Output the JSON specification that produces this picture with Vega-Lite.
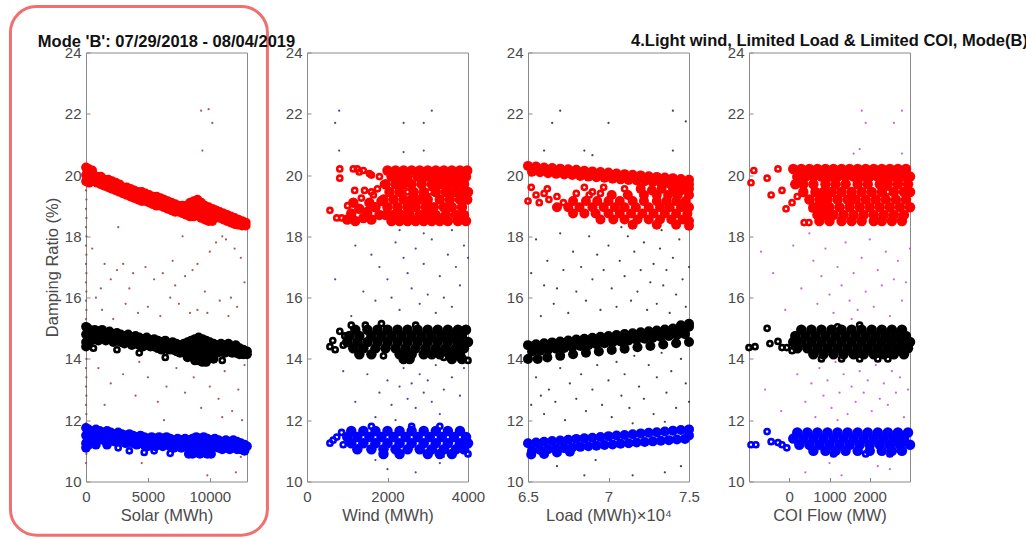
{
"$schema":"https://vega.github.io/schema/vega-lite/v6.json",
"padding":{"left":8,"top":4.5,"right":0,"bottom":0},
"background":"white",
"bounds":"flush",
"spacing":60,
"config":{
 "view":{"stroke":"#8a8a8a","strokeWidth":1},
 "axis":{"grid":false,"domain":false,"ticks":true,"tickSize":-4,"tickColor":"#8a8a8a","labelFlush":false,"labelColor":"#4a4a4a","titleColor":"#4a4a4a","labelFont":"Liberation Sans","titleFont":"Liberation Sans","labelFontSize":15,"titleFontSize":16.5,"titleFontWeight":"normal"},
 "axisX":{"labelPadding":12,"titlePadding":3},
 "axisY":{"labelPadding":9,"titlePadding":4},
 "title":{"font":"Liberation Sans","fontSize":16.5,"fontWeight":"bold","color":"#111111","offset":5,"frame":"group"}
},
"datasets":{
"d1":[{"x":0,"y":10.6},{"x":30,"y":10.9},{"x":0,"y":11.9},{"x":30,"y":12.2},{"x":0,"y":12.5},{"x":30,"y":12.8},{"x":0,"y":13.1},{"x":30,"y":13.4},{"x":0,"y":13.7},{"x":30,"y":14.0},{"x":0,"y":15.3},{"x":30,"y":15.6},{"x":0,"y":15.9},{"x":30,"y":16.2},{"x":0,"y":16.5},{"x":30,"y":16.8},{"x":0,"y":17.1},{"x":30,"y":17.4},{"x":0,"y":17.7},{"x":30,"y":18.0},{"x":0,"y":18.3},{"x":30,"y":18.6},{"x":0,"y":18.9},{"x":30,"y":19.2},{"x":0,"y":19.5},
{"x":1500,"y":17.1},{"x":2500,"y":16.9},{"x":3000,"y":17.1},{"x":3800,"y":16.8},{"x":1200,"y":16.3},{"x":2000,"y":16.6},{"x":3500,"y":16.3},{"x":4800,"y":17.0},{"x":5500,"y":16.6},{"x":6200,"y":16.8},{"x":7000,"y":17.2},{"x":7200,"y":16.4},{"x":8000,"y":16.7},{"x":8600,"y":16.9},{"x":9000,"y":17.1},{"x":9600,"y":16.2},{"x":10000,"y":17.5},{"x":10500,"y":17.8},{"x":11000,"y":18.0},{"x":11300,"y":17.9},{"x":12000,"y":17.6},{"x":12500,"y":17.3},{"x":12800,"y":16.5},{"x":11700,"y":16.0},{"x":12200,"y":15.7},{"x":11500,"y":15.4},{"x":10800,"y":15.9},{"x":9800,"y":15.5},{"x":9000,"y":15.6},{"x":8400,"y":15.5},{"x":7500,"y":15.8},{"x":6800,"y":16.0},{"x":6000,"y":15.4},{"x":5000,"y":15.7},{"x":4200,"y":15.5},{"x":3200,"y":15.8},{"x":2200,"y":15.3},{"x":1300,"y":15.6},{"x":800,"y":16.0},{"x":500,"y":17.6},{"x":2600,"y":18.3},{"x":7800,"y":18.0},{"x":1000,"y":13.7},{"x":2000,"y":13.2},{"x":3000,"y":13.5},{"x":4000,"y":12.8},{"x":5000,"y":13.4},{"x":5800,"y":12.6},{"x":6500,"y":13.1},{"x":7300,"y":13.7},{"x":8000,"y":12.9},{"x":8700,"y":13.4},{"x":9300,"y":12.4},{"x":10000,"y":13.1},{"x":10700,"y":12.7},{"x":11200,"y":13.6},{"x":11800,"y":12.3},{"x":12300,"y":13.0},{"x":12800,"y":13.8},{"x":12600,"y":12.0},{"x":11000,"y":12.1},{"x":6300,"y":12.0},{"x":4300,"y":13.9},{"x":1500,"y":12.5},{"x":9300,"y":22.1},{"x":9900,"y":22.15},{"x":10200,"y":21.7},{"x":9400,"y":20.8},{"x":12100,"y":10.3},{"x":4500,"y":10.6},{"x":12500,"y":10.8},{"x":9800,"y":10.2}],
"r1":[{"x":0,"y":20.25},{"x":0,"y":20.0},{"x":0,"y":19.8},{"x":100,"y":20.15},{"x":150,"y":19.9},{"x":200,"y":20.2},{"x":250,"y":19.75},{"x":300,"y":20.05},{"x":400,"y":19.95},{"x":500,"y":20.15},{"x":600,"y":20.0},{"x":600,"y":19.8},{"x":900,"y":19.95},{"x":900,"y":19.75},{"x":1200,"y":19.95},{"x":1200,"y":19.7},{"x":1500,"y":19.85},{"x":1500,"y":19.65},{"x":1800,"y":19.85},{"x":1800,"y":19.6},{"x":2100,"y":19.8},{"x":2100,"y":19.55},{"x":2400,"y":19.75},{"x":2400,"y":19.5},{"x":2700,"y":19.7},{"x":2700,"y":19.45},{"x":3000,"y":19.6},{"x":3000,"y":19.4},{"x":3300,"y":19.6},{"x":3300,"y":19.35},{"x":3600,"y":19.55},{"x":3600,"y":19.3},{"x":3900,"y":19.5},{"x":3900,"y":19.25},{"x":4200,"y":19.45},{"x":4200,"y":19.2},{"x":4500,"y":19.45},{"x":4500,"y":19.15},{"x":4800,"y":19.4},{"x":4800,"y":19.15},{"x":5100,"y":19.35},{"x":5100,"y":19.1},{"x":5400,"y":19.3},{"x":5400,"y":19.05},{"x":5700,"y":19.3},{"x":5700,"y":19.0},{"x":6000,"y":19.25},{"x":6000,"y":19.0},{"x":6300,"y":19.2},{"x":6300,"y":18.95},{"x":6600,"y":19.15},{"x":6600,"y":18.9},{"x":6900,"y":19.1},{"x":6900,"y":18.85},{"x":7200,"y":19.05},{"x":7200,"y":18.8},{"x":7500,"y":19.0},{"x":7500,"y":18.8},{"x":7800,"y":19.0},{"x":7800,"y":18.75},{"x":8100,"y":19.0},{"x":8100,"y":18.7},{"x":8400,"y":19.1},{"x":8400,"y":18.85},{"x":8400,"y":18.65},{"x":8700,"y":19.15},{"x":8700,"y":18.9},{"x":8700,"y":18.65},{"x":9000,"y":19.2},{"x":9000,"y":18.95},{"x":9000,"y":18.7},{"x":9300,"y":19.1},{"x":9300,"y":18.85},{"x":9300,"y":18.6},{"x":9600,"y":19.0},{"x":9600,"y":18.75},{"x":9600,"y":18.55},{"x":9900,"y":18.95},{"x":9900,"y":18.7},{"x":9900,"y":18.5},{"x":10200,"y":18.9},{"x":10200,"y":18.7},{"x":10200,"y":18.5},{"x":10500,"y":18.85},{"x":10500,"y":18.65},{"x":10800,"y":18.8},{"x":10800,"y":18.6},{"x":11100,"y":18.75},{"x":11100,"y":18.55},{"x":11400,"y":18.7},{"x":11400,"y":18.5},{"x":11700,"y":18.65},{"x":11700,"y":18.45},{"x":12000,"y":18.6},{"x":12000,"y":18.4},{"x":12300,"y":18.55},{"x":12300,"y":18.38},{"x":12600,"y":18.5},{"x":12600,"y":18.35},{"x":12900,"y":18.45},{"x":12900,"y":18.35}],
"k1":[{"x":0,"y":15.05},{"x":0,"y":14.8},{"x":0,"y":14.55},{"x":0,"y":14.4},{"x":150,"y":15.0},{"x":150,"y":14.7},{"x":150,"y":14.45},{"x":400,"y":14.9},{"x":400,"y":14.6},{"x":700,"y":14.95},{"x":700,"y":14.65},{"x":1000,"y":14.9},{"x":1000,"y":14.6},{"x":1300,"y":14.95},{"x":1300,"y":14.7},{"x":1600,"y":14.85},{"x":1600,"y":14.6},{"x":1900,"y":14.9},{"x":1900,"y":14.65},{"x":2200,"y":14.8},{"x":2200,"y":14.55},{"x":2500,"y":14.85},{"x":2500,"y":14.6},{"x":2800,"y":14.8},{"x":2800,"y":14.55},{"x":3100,"y":14.75},{"x":3100,"y":14.5},{"x":3400,"y":14.8},{"x":3400,"y":14.55},{"x":3700,"y":14.7},{"x":3700,"y":14.45},{"x":4000,"y":14.75},{"x":4000,"y":14.5},{"x":4300,"y":14.7},{"x":4300,"y":14.45},{"x":4600,"y":14.65},{"x":4600,"y":14.4},{"x":4900,"y":14.7},{"x":4900,"y":14.45},{"x":5200,"y":14.6},{"x":5200,"y":14.4},{"x":5500,"y":14.65},{"x":5500,"y":14.4},{"x":5800,"y":14.6},{"x":5800,"y":14.35},{"x":6100,"y":14.55},{"x":6100,"y":14.3},{"x":6400,"y":14.6},{"x":6400,"y":14.35},{"x":6700,"y":14.5},{"x":6700,"y":14.3},{"x":7000,"y":14.55},{"x":7000,"y":14.3},{"x":7300,"y":14.5},{"x":7300,"y":14.25},{"x":7600,"y":14.45},{"x":7600,"y":14.2},{"x":7900,"y":14.5},{"x":7900,"y":14.25},{"x":8200,"y":14.55},{"x":8200,"y":14.3},{"x":8200,"y":14.05},{"x":8500,"y":14.6},{"x":8500,"y":14.35},{"x":8500,"y":14.1},{"x":8800,"y":14.65},{"x":8800,"y":14.4},{"x":8800,"y":14.15},{"x":8800,"y":13.95},{"x":9100,"y":14.7},{"x":9100,"y":14.45},{"x":9100,"y":14.2},{"x":9100,"y":13.95},{"x":9400,"y":14.65},{"x":9400,"y":14.4},{"x":9400,"y":14.15},{"x":9400,"y":13.9},{"x":9700,"y":14.6},{"x":9700,"y":14.35},{"x":9700,"y":14.1},{"x":9700,"y":13.9},{"x":10000,"y":14.55},{"x":10000,"y":14.3},{"x":10000,"y":14.05},{"x":10300,"y":14.5},{"x":10300,"y":14.25},{"x":10300,"y":14.0},{"x":10600,"y":14.45},{"x":10600,"y":14.2},{"x":10900,"y":14.5},{"x":10900,"y":14.25},{"x":11200,"y":14.45},{"x":11200,"y":14.2},{"x":11500,"y":14.5},{"x":11500,"y":14.25},{"x":11800,"y":14.4},{"x":11800,"y":14.2},{"x":12100,"y":14.45},{"x":12100,"y":14.2},{"x":12400,"y":14.35},{"x":12400,"y":14.15},{"x":12700,"y":14.3},{"x":12700,"y":14.15},{"x":13000,"y":14.25},{"x":13000,"y":14.15}],
"k1e":[{"x":2500,"y":14.3},{"x":4300,"y":14.2},{"x":6400,"y":14.05},{"x":600,"y":14.35},{"x":11000,"y":13.95}],
"b1":[{"x":0,"y":11.75},{"x":0,"y":11.5},{"x":0,"y":11.25},{"x":0,"y":11.1},{"x":200,"y":11.7},{"x":200,"y":11.45},{"x":200,"y":11.2},{"x":500,"y":11.6},{"x":500,"y":11.35},{"x":800,"y":11.7},{"x":800,"y":11.45},{"x":800,"y":11.2},{"x":1100,"y":11.65},{"x":1100,"y":11.4},{"x":1400,"y":11.6},{"x":1400,"y":11.35},{"x":1700,"y":11.65},{"x":1700,"y":11.4},{"x":1700,"y":11.2},{"x":2000,"y":11.6},{"x":2000,"y":11.35},{"x":2300,"y":11.55},{"x":2300,"y":11.3},{"x":2600,"y":11.6},{"x":2600,"y":11.35},{"x":2900,"y":11.55},{"x":2900,"y":11.3},{"x":3200,"y":11.5},{"x":3200,"y":11.25},{"x":3500,"y":11.55},{"x":3500,"y":11.3},{"x":3800,"y":11.5},{"x":3800,"y":11.25},{"x":4100,"y":11.45},{"x":4100,"y":11.2},{"x":4400,"y":11.5},{"x":4400,"y":11.25},{"x":4700,"y":11.45},{"x":4700,"y":11.2},{"x":5000,"y":11.4},{"x":5000,"y":11.15},{"x":5300,"y":11.45},{"x":5300,"y":11.2},{"x":5600,"y":11.4},{"x":5600,"y":11.15},{"x":5900,"y":11.45},{"x":5900,"y":11.2},{"x":6200,"y":11.4},{"x":6200,"y":11.15},{"x":6500,"y":11.45},{"x":6500,"y":11.2},{"x":6800,"y":11.4},{"x":6800,"y":11.15},{"x":7100,"y":11.35},{"x":7100,"y":11.1},{"x":7400,"y":11.4},{"x":7400,"y":11.15},{"x":7700,"y":11.35},{"x":7700,"y":11.1},{"x":8000,"y":11.4},{"x":8000,"y":11.15},{"x":8300,"y":11.35},{"x":8300,"y":11.1},{"x":8300,"y":10.9},{"x":8600,"y":11.4},{"x":8600,"y":11.15},{"x":8600,"y":10.9},{"x":8900,"y":11.45},{"x":8900,"y":11.2},{"x":8900,"y":10.95},{"x":9200,"y":11.4},{"x":9200,"y":11.15},{"x":9200,"y":10.9},{"x":9500,"y":11.45},{"x":9500,"y":11.2},{"x":9500,"y":10.95},{"x":9800,"y":11.4},{"x":9800,"y":11.15},{"x":9800,"y":10.9},{"x":10100,"y":11.35},{"x":10100,"y":11.1},{"x":10100,"y":10.9},{"x":10400,"y":11.4},{"x":10400,"y":11.15},{"x":10700,"y":11.35},{"x":10700,"y":11.1},{"x":11000,"y":11.3},{"x":11000,"y":11.05},{"x":11300,"y":11.35},{"x":11300,"y":11.1},{"x":11600,"y":11.3},{"x":11600,"y":11.05},{"x":11900,"y":11.35},{"x":11900,"y":11.1},{"x":12200,"y":11.3},{"x":12200,"y":11.05},{"x":12500,"y":11.25},{"x":12500,"y":11.05},{"x":12800,"y":11.2},{"x":12800,"y":11.0},{"x":13000,"y":11.15}],
"b1e":[{"x":3500,"y":11.0},{"x":4700,"y":10.95},{"x":6800,"y":10.92},{"x":2600,"y":11.1},{"x":5500,"y":11.0}],
"d2":[{"x":1200,"y":17.7},{"x":1600,"y":17.4},{"x":1800,"y":17.0},{"x":2000,"y":16.6},{"x":2200,"y":17.8},{"x":2400,"y":17.3},{"x":2500,"y":16.8},{"x":2700,"y":17.6},{"x":2900,"y":17.1},{"x":3100,"y":17.9},{"x":3300,"y":16.7},{"x":3500,"y":17.4},{"x":3700,"y":17.0},{"x":3900,"y":17.7},{"x":1400,"y":16.2},{"x":1700,"y":15.9},{"x":2100,"y":16.0},{"x":2300,"y":15.6},{"x":2600,"y":16.3},{"x":2800,"y":15.8},{"x":3000,"y":16.1},{"x":3200,"y":15.5},{"x":3400,"y":16.0},{"x":3600,"y":15.7},{"x":3800,"y":16.4},{"x":1100,"y":15.4},{"x":2900,"y":18.1},{"x":2300,"y":18.2},{"x":3600,"y":18.2},{"x":700,"y":16.6},{"x":4000,"y":17.3},{"x":1500,"y":13.5},{"x":1800,"y":12.9},{"x":2000,"y":13.3},{"x":2100,"y":12.5},{"x":2300,"y":13.1},{"x":2400,"y":13.7},{"x":2500,"y":12.7},{"x":2600,"y":13.2},{"x":2700,"y":12.4},{"x":2800,"y":13.5},{"x":2900,"y":12.9},{"x":3000,"y":13.3},{"x":3100,"y":12.6},{"x":3200,"y":13.8},{"x":3300,"y":12.2},{"x":3400,"y":13.0},{"x":3600,"y":13.4},{"x":3800,"y":12.8},{"x":1200,"y":12.6},{"x":900,"y":13.6},{"x":1700,"y":12.1},{"x":2200,"y":12.0},{"x":3900,"y":13.7},{"x":2000,"y":10.4},{"x":2700,"y":10.3},{"x":3300,"y":10.6},{"x":3400,"y":10.8},{"x":1700,"y":10.7},{"x":700,"y":21.7},{"x":800,"y":22.1},{"x":2400,"y":21.7},{"x":2900,"y":21.7},{"x":3100,"y":22.1},{"x":800,"y":20.8},{"x":2400,"y":20.75},{"x":2900,"y":20.8}],
"r2":[{"x":2000,"y":20.15},{"x":2200,"y":20.15},{"x":2400,"y":20.15},{"x":2600,"y":20.15},{"x":2800,"y":20.15},{"x":3000,"y":20.15},{"x":3200,"y":20.15},{"x":3400,"y":20.15},{"x":3600,"y":20.15},{"x":3800,"y":20.15},{"x":3980,"y":20.15},{"x":2100,"y":19.95},{"x":2300,"y":19.95},{"x":2500,"y":19.95},{"x":2750,"y":19.95},{"x":2950,"y":19.95},{"x":3150,"y":19.95},{"x":3350,"y":19.95},{"x":3550,"y":19.95},{"x":3750,"y":19.95},{"x":3950,"y":19.95},{"x":1950,"y":19.7},{"x":2200,"y":19.7},{"x":2400,"y":19.7},{"x":2600,"y":19.7},{"x":2850,"y":19.7},{"x":3100,"y":19.7},{"x":3300,"y":19.7},{"x":3500,"y":19.7},{"x":3700,"y":19.7},{"x":3900,"y":19.7},{"x":2050,"y":19.45},{"x":2300,"y":19.45},{"x":2650,"y":19.45},{"x":2900,"y":19.45},{"x":3200,"y":19.45},{"x":3450,"y":19.45},{"x":3650,"y":19.45},{"x":3850,"y":19.45},{"x":4000,"y":19.45},{"x":1900,"y":19.2},{"x":2150,"y":19.2},{"x":2400,"y":19.2},{"x":2600,"y":19.2},{"x":2800,"y":19.2},{"x":3000,"y":19.2},{"x":3300,"y":19.2},{"x":3550,"y":19.2},{"x":3800,"y":19.2},{"x":3980,"y":19.2},{"x":2000,"y":18.95},{"x":2250,"y":18.95},{"x":2500,"y":18.95},{"x":2700,"y":18.95},{"x":2950,"y":18.95},{"x":3150,"y":18.95},{"x":3400,"y":18.95},{"x":3600,"y":18.95},{"x":3850,"y":18.95},{"x":1950,"y":18.7},{"x":2150,"y":18.7},{"x":2350,"y":18.7},{"x":2550,"y":18.7},{"x":2800,"y":18.7},{"x":3000,"y":18.7},{"x":3200,"y":18.7},{"x":3450,"y":18.7},{"x":3700,"y":18.7},{"x":3900,"y":18.7},{"x":2100,"y":18.5},{"x":2300,"y":18.5},{"x":2500,"y":18.5},{"x":2700,"y":18.5},{"x":2900,"y":18.5},{"x":3100,"y":18.5},{"x":3300,"y":18.5},{"x":3500,"y":18.5},{"x":3750,"y":18.5},{"x":3950,"y":18.5},{"x":1000,"y":18.55},{"x":1100,"y":18.75},{"x":1200,"y":18.5},{"x":1300,"y":18.9},{"x":1400,"y":18.6},{"x":1500,"y":18.8},{"x":1600,"y":18.55},{"x":1700,"y":18.95},{"x":1800,"y":18.7},{"x":1850,"y":19.15},{"x":1150,"y":19.1},{"x":1550,"y":19.1}],
"r2e":[{"x":1350,"y":19.25},{"x":1650,"y":19.35},{"x":1750,"y":19.55},{"x":1900,"y":19.7},{"x":1800,"y":19.95},{"x":1600,"y":20.0},{"x":1300,"y":20.1},{"x":1150,"y":20.2},{"x":570,"y":18.85},{"x":740,"y":18.6},{"x":860,"y":18.6},{"x":815,"y":20.2},{"x":815,"y":19.9},{"x":1185,"y":19.5},{"x":1430,"y":19.5},{"x":1600,"y":19.45},{"x":1010,"y":19.0},{"x":1250,"y":20.2},{"x":1400,"y":20.15},{"x":1550,"y":20.05},{"x":2500,"y":19.45},{"x":3050,"y":19.45}],
"k2":[{"x":1200,"y":14.95},{"x":1500,"y":14.95},{"x":1750,"y":14.95},{"x":2000,"y":14.95},{"x":2250,"y":14.95},{"x":2500,"y":14.95},{"x":2750,"y":14.95},{"x":3000,"y":14.95},{"x":3250,"y":14.95},{"x":3500,"y":14.95},{"x":3750,"y":14.95},{"x":3950,"y":14.95},{"x":1050,"y":14.75},{"x":1300,"y":14.75},{"x":1600,"y":14.75},{"x":1850,"y":14.75},{"x":2100,"y":14.75},{"x":2350,"y":14.75},{"x":2600,"y":14.75},{"x":2850,"y":14.75},{"x":3100,"y":14.75},{"x":3350,"y":14.75},{"x":3600,"y":14.75},{"x":3850,"y":14.75},{"x":1000,"y":14.55},{"x":1250,"y":14.55},{"x":1500,"y":14.55},{"x":1750,"y":14.55},{"x":2000,"y":14.55},{"x":2250,"y":14.55},{"x":2500,"y":14.55},{"x":2750,"y":14.55},{"x":3000,"y":14.55},{"x":3250,"y":14.55},{"x":3500,"y":14.55},{"x":3750,"y":14.55},{"x":4000,"y":14.55},{"x":1150,"y":14.35},{"x":1400,"y":14.35},{"x":1700,"y":14.35},{"x":1950,"y":14.35},{"x":2200,"y":14.35},{"x":2450,"y":14.35},{"x":2700,"y":14.35},{"x":2950,"y":14.35},{"x":3200,"y":14.35},{"x":3450,"y":14.35},{"x":3700,"y":14.35},{"x":3900,"y":14.35},{"x":1300,"y":14.15},{"x":1600,"y":14.15},{"x":2300,"y":14.15},{"x":2450,"y":14.15},{"x":2600,"y":14.15},{"x":2900,"y":14.15},{"x":3100,"y":14.15},{"x":3300,"y":14.15},{"x":3550,"y":14.15},{"x":3800,"y":14.15},{"x":2400,"y":14.0},{"x":2550,"y":14.0},{"x":3600,"y":14.0},{"x":3850,"y":14.0}],
"k2e":[{"x":4000,"y":13.95},{"x":570,"y":14.4},{"x":640,"y":14.6},{"x":700,"y":14.3},{"x":815,"y":14.9},{"x":940,"y":14.75},{"x":900,"y":14.45},{"x":1100,"y":15.1},{"x":1450,"y":15.1},{"x":1850,"y":15.15},{"x":2700,"y":15.1},{"x":1900,"y":14.1},{"x":3400,"y":14.05}],
"b2":[{"x":1100,"y":11.65},{"x":1400,"y":11.65},{"x":1700,"y":11.65},{"x":2000,"y":11.65},{"x":2300,"y":11.65},{"x":2600,"y":11.65},{"x":2900,"y":11.65},{"x":3200,"y":11.65},{"x":3500,"y":11.65},{"x":3800,"y":11.65},{"x":1000,"y":11.45},{"x":1250,"y":11.45},{"x":1550,"y":11.45},{"x":1850,"y":11.45},{"x":2150,"y":11.45},{"x":2450,"y":11.45},{"x":2750,"y":11.45},{"x":3050,"y":11.45},{"x":3350,"y":11.45},{"x":3650,"y":11.45},{"x":3950,"y":11.45},{"x":1100,"y":11.25},{"x":1400,"y":11.25},{"x":1700,"y":11.25},{"x":2000,"y":11.25},{"x":2300,"y":11.25},{"x":2600,"y":11.25},{"x":2900,"y":11.25},{"x":3200,"y":11.25},{"x":3500,"y":11.25},{"x":3800,"y":11.25},{"x":4000,"y":11.25},{"x":1250,"y":11.05},{"x":1600,"y":11.05},{"x":1900,"y":11.05},{"x":2200,"y":11.05},{"x":2500,"y":11.05},{"x":2800,"y":11.05},{"x":3100,"y":11.05},{"x":3400,"y":11.05},{"x":3700,"y":11.05},{"x":3900,"y":11.05},{"x":1900,"y":10.9},{"x":2300,"y":10.9},{"x":3000,"y":10.9},{"x":3300,"y":10.9},{"x":3600,"y":10.9}],
"b2e":[{"x":570,"y":11.25},{"x":650,"y":11.35},{"x":740,"y":11.45},{"x":860,"y":11.6},{"x":900,"y":11.2},{"x":4000,"y":10.9},{"x":2600,"y":11.8},{"x":3300,"y":11.8},{"x":1600,"y":11.8}],
"d3":[{"x":6.55,"y":17.9},{"x":6.6,"y":16.4},{"x":6.62,"y":17.2},{"x":6.66,"y":15.8},{"x":6.7,"y":18.1},{"x":6.72,"y":16.9},{"x":6.75,"y":15.5},{"x":6.78,"y":17.5},{"x":6.8,"y":16.2},{"x":6.83,"y":17.0},{"x":6.86,"y":15.9},{"x":6.88,"y":18.0},{"x":6.9,"y":16.6},{"x":6.93,"y":17.4},{"x":6.95,"y":15.6},{"x":6.97,"y":16.9},{"x":7.0,"y":17.7},{"x":7.02,"y":16.3},{"x":7.05,"y":15.7},{"x":7.07,"y":17.2},{"x":7.1,"y":16.7},{"x":7.12,"y":18.0},{"x":7.14,"y":15.9},{"x":7.16,"y":17.5},{"x":7.18,"y":16.2},{"x":7.2,"y":16.9},{"x":7.22,"y":17.8},{"x":7.24,"y":15.6},{"x":7.26,"y":16.5},{"x":7.28,"y":17.1},{"x":7.3,"y":15.8},{"x":7.32,"y":17.6},{"x":7.34,"y":16.4},{"x":7.36,"y":16.9},{"x":7.38,"y":15.5},{"x":7.4,"y":17.3},{"x":7.42,"y":16.1},{"x":7.44,"y":17.9},{"x":7.46,"y":16.6},{"x":7.48,"y":15.7},{"x":7.5,"y":17.0},{"x":6.58,"y":15.4},{"x":6.52,"y":16.8},{"x":6.68,"y":16.3},{"x":7.08,"y":18.3},{"x":7.33,"y":18.2},{"x":6.55,"y":13.4},{"x":6.6,"y":12.2},{"x":6.63,"y":13.0},{"x":6.67,"y":12.6},{"x":6.7,"y":13.7},{"x":6.73,"y":12.0},{"x":6.76,"y":13.2},{"x":6.8,"y":12.7},{"x":6.83,"y":13.5},{"x":6.86,"y":12.3},{"x":6.9,"y":13.0},{"x":6.93,"y":13.8},{"x":6.96,"y":12.5},{"x":7.0,"y":13.3},{"x":7.02,"y":12.1},{"x":7.05,"y":13.9},{"x":7.08,"y":12.8},{"x":7.1,"y":13.5},{"x":7.13,"y":12.4},{"x":7.16,"y":14.1},{"x":7.19,"y":13.1},{"x":7.22,"y":12.7},{"x":7.25,"y":13.8},{"x":7.28,"y":12.2},{"x":7.3,"y":13.4},{"x":7.33,"y":14.2},{"x":7.36,"y":12.9},{"x":7.39,"y":13.6},{"x":7.42,"y":12.4},{"x":7.45,"y":14.0},{"x":7.48,"y":13.2},{"x":7.5,"y":12.6},{"x":6.52,"y":12.5},{"x":6.58,"y":12.8},{"x":7.15,"y":11.9},{"x":7.35,"y":11.95},{"x":6.7,"y":22.1},{"x":6.65,"y":21.7},{"x":7.0,"y":21.7},{"x":7.4,"y":22.1},{"x":7.48,"y":21.75},{"x":6.6,"y":20.8},{"x":6.85,"y":20.8},{"x":6.9,"y":20.65},{"x":7.4,"y":20.8},{"x":6.85,"y":10.2},{"x":7.15,"y":10.2},{"x":7.35,"y":10.3},{"x":7.45,"y":10.5},{"x":6.92,"y":10.7},{"x":6.68,"y":10.5}],
"r3":[{"x":6.5,"y":20.3},{"x":6.55,"y":20.28},{"x":6.6,"y":20.25},{"x":6.65,"y":20.23},{"x":6.7,"y":20.21},{"x":6.75,"y":20.19},{"x":6.8,"y":20.17},{"x":6.85,"y":20.14},{"x":6.9,"y":20.12},{"x":6.95,"y":20.1},{"x":7.0,"y":20.08},{"x":7.05,"y":20.05},{"x":7.1,"y":20.03},{"x":7.15,"y":20.01},{"x":7.2,"y":19.99},{"x":7.25,"y":19.96},{"x":7.3,"y":19.94},{"x":7.35,"y":19.92},{"x":7.4,"y":19.9},{"x":7.45,"y":19.87},{"x":7.5,"y":19.85},{"x":6.525,"y":20.11},{"x":6.575,"y":20.09},{"x":6.625,"y":20.06},{"x":6.675,"y":20.04},{"x":6.725,"y":20.02},{"x":6.775,"y":20.0},{"x":6.825,"y":19.97},{"x":6.875,"y":19.95},{"x":6.925,"y":19.93},{"x":6.975,"y":19.91},{"x":7.025,"y":19.88},{"x":7.075,"y":19.86},{"x":7.125,"y":19.84},{"x":7.175,"y":19.82},{"x":7.225,"y":19.8},{"x":7.275,"y":19.77},{"x":7.325,"y":19.75},{"x":7.375,"y":19.73},{"x":7.425,"y":19.71},{"x":7.475,"y":19.68},{"x":7.2,"y":19.55},{"x":7.27,"y":19.5},{"x":7.33,"y":19.55},{"x":7.4,"y":19.55},{"x":7.45,"y":19.5},{"x":7.5,"y":19.55},{"x":7.02,"y":19.35},{"x":7.12,"y":19.35},{"x":7.22,"y":19.35},{"x":7.3,"y":19.35},{"x":7.37,"y":19.35},{"x":7.43,"y":19.35},{"x":7.5,"y":19.35},{"x":6.78,"y":19.15},{"x":6.86,"y":19.15},{"x":6.93,"y":19.15},{"x":7.0,"y":19.15},{"x":7.07,"y":19.15},{"x":7.15,"y":19.15},{"x":7.22,"y":19.15},{"x":7.3,"y":19.15},{"x":7.36,"y":19.15},{"x":7.42,"y":19.15},{"x":7.48,"y":19.15},{"x":6.68,"y":18.95},{"x":6.75,"y":18.95},{"x":6.82,"y":18.95},{"x":6.9,"y":18.95},{"x":6.97,"y":18.95},{"x":7.04,"y":18.95},{"x":7.1,"y":18.95},{"x":7.17,"y":18.95},{"x":7.25,"y":18.95},{"x":7.32,"y":18.95},{"x":7.38,"y":18.95},{"x":7.45,"y":18.95},{"x":7.5,"y":18.95},{"x":6.78,"y":18.75},{"x":6.85,"y":18.75},{"x":6.92,"y":18.75},{"x":7.0,"y":18.75},{"x":7.07,"y":18.75},{"x":7.14,"y":18.75},{"x":7.21,"y":18.75},{"x":7.28,"y":18.75},{"x":7.35,"y":18.75},{"x":7.42,"y":18.75},{"x":7.49,"y":18.75},{"x":6.95,"y":18.55},{"x":7.03,"y":18.55},{"x":7.1,"y":18.55},{"x":7.18,"y":18.55},{"x":7.25,"y":18.55},{"x":7.32,"y":18.55},{"x":7.39,"y":18.55},{"x":7.46,"y":18.55},{"x":7.5,"y":18.5},{"x":7.15,"y":18.38},{"x":7.3,"y":18.38},{"x":7.42,"y":18.38},{"x":7.5,"y":18.35},{"x":7.45,"y":19.75},{"x":7.5,"y":19.7}],
"r3e":[{"x":6.52,"y":19.6},{"x":6.62,"y":19.55},{"x":6.85,"y":19.6},{"x":6.9,"y":19.45},{"x":6.97,"y":19.6},{"x":7.1,"y":19.55},{"x":6.55,"y":19.35},{"x":6.6,"y":19.4},{"x":6.68,"y":19.3},{"x":6.8,"y":19.4},{"x":6.88,"y":19.35},{"x":6.95,"y":19.4},{"x":6.5,"y":19.15},{"x":6.57,"y":19.1},{"x":6.63,"y":19.2},{"x":6.72,"y":19.1}],
"k3":[{"x":6.5,"y":14.45},{"x":6.55,"y":14.48},{"x":6.6,"y":14.51},{"x":6.65,"y":14.54},{"x":6.7,"y":14.57},{"x":6.75,"y":14.6},{"x":6.8,"y":14.63},{"x":6.85,"y":14.66},{"x":6.9,"y":14.69},{"x":6.95,"y":14.72},{"x":7.0,"y":14.75},{"x":7.05,"y":14.78},{"x":7.1,"y":14.81},{"x":7.15,"y":14.84},{"x":7.2,"y":14.87},{"x":7.25,"y":14.9},{"x":7.3,"y":14.93},{"x":7.35,"y":14.96},{"x":7.4,"y":14.99},{"x":7.45,"y":15.02},{"x":7.5,"y":15.05},{"x":6.525,"y":14.24},{"x":6.575,"y":14.27},{"x":6.625,"y":14.3},{"x":6.675,"y":14.33},{"x":6.725,"y":14.36},{"x":6.775,"y":14.39},{"x":6.825,"y":14.42},{"x":6.875,"y":14.45},{"x":6.925,"y":14.48},{"x":6.975,"y":14.51},{"x":7.025,"y":14.54},{"x":7.075,"y":14.57},{"x":7.125,"y":14.6},{"x":7.175,"y":14.63},{"x":7.225,"y":14.66},{"x":7.275,"y":14.69},{"x":7.325,"y":14.72},{"x":7.375,"y":14.75},{"x":7.425,"y":14.78},{"x":7.475,"y":14.81},{"x":6.5,"y":14.0},{"x":6.56,"y":14.0},{"x":6.62,"y":14.05},{"x":6.7,"y":14.1},{"x":6.78,"y":14.15},{"x":6.86,"y":14.2},{"x":6.94,"y":14.24},{"x":7.02,"y":14.29},{"x":7.1,"y":14.33},{"x":7.18,"y":14.38},{"x":7.26,"y":14.42},{"x":7.34,"y":14.47},{"x":7.42,"y":14.51},{"x":7.5,"y":14.55},{"x":7.5,"y":15.15},{"x":7.45,"y":15.1}],
"b3":[{"x":6.5,"y":11.25},{"x":6.55,"y":11.27},{"x":6.6,"y":11.3},{"x":6.65,"y":11.32},{"x":6.7,"y":11.34},{"x":6.75,"y":11.36},{"x":6.8,"y":11.39},{"x":6.85,"y":11.41},{"x":6.9,"y":11.43},{"x":6.95,"y":11.45},{"x":7.0,"y":11.48},{"x":7.05,"y":11.5},{"x":7.1,"y":11.52},{"x":7.15,"y":11.54},{"x":7.2,"y":11.57},{"x":7.25,"y":11.59},{"x":7.3,"y":11.61},{"x":7.35,"y":11.63},{"x":7.4,"y":11.66},{"x":7.45,"y":11.68},{"x":7.5,"y":11.7},{"x":6.525,"y":11.01},{"x":6.575,"y":11.03},{"x":6.625,"y":11.05},{"x":6.675,"y":11.07},{"x":6.725,"y":11.09},{"x":6.775,"y":11.11},{"x":6.825,"y":11.13},{"x":6.875,"y":11.15},{"x":6.925,"y":11.17},{"x":6.975,"y":11.19},{"x":7.025,"y":11.21},{"x":7.075,"y":11.23},{"x":7.125,"y":11.25},{"x":7.175,"y":11.27},{"x":7.225,"y":11.29},{"x":7.275,"y":11.31},{"x":7.325,"y":11.33},{"x":7.375,"y":11.35},{"x":7.425,"y":11.37},{"x":7.475,"y":11.39},{"x":6.52,"y":10.88},{"x":6.6,"y":10.9},{"x":6.68,"y":10.95},{"x":6.76,"y":10.97},{"x":7.5,"y":11.5}],
"d4":[{"x":1800,"y":22.1},{"x":1900,"y":21.7},{"x":2600,"y":21.7},{"x":2800,"y":22.1},{"x":1600,"y":20.7},{"x":2800,"y":20.7},{"x":1750,"y":20.85},{"x":-700,"y":17.5},{"x":-400,"y":16.8},{"x":100,"y":17.7},{"x":300,"y":16.3},{"x":500,"y":18.1},{"x":600,"y":17.2},{"x":700,"y":15.8},{"x":800,"y":16.7},{"x":900,"y":17.6},{"x":1000,"y":16.1},{"x":1100,"y":15.5},{"x":1200,"y":17.0},{"x":1300,"y":16.4},{"x":1400,"y":17.8},{"x":1500,"y":15.9},{"x":1600,"y":16.8},{"x":1700,"y":15.6},{"x":1800,"y":17.3},{"x":1900,"y":16.2},{"x":2000,"y":17.9},{"x":2100,"y":15.7},{"x":2200,"y":16.9},{"x":2300,"y":16.4},{"x":2400,"y":17.5},{"x":2500,"y":15.4},{"x":2600,"y":16.6},{"x":2700,"y":17.2},{"x":2800,"y":15.9},{"x":2900,"y":16.5},{"x":3000,"y":17.6},{"x":-100,"y":15.6},{"x":1550,"y":15.3},{"x":-600,"y":13.0},{"x":-200,"y":12.3},{"x":200,"y":13.5},{"x":400,"y":12.6},{"x":550,"y":13.2},{"x":650,"y":12.1},{"x":750,"y":13.7},{"x":850,"y":12.8},{"x":950,"y":13.3},{"x":1050,"y":12.4},{"x":1150,"y":13.9},{"x":1250,"y":12.9},{"x":1350,"y":13.5},{"x":1450,"y":12.2},{"x":1550,"y":13.1},{"x":1650,"y":12.6},{"x":1750,"y":13.6},{"x":1850,"y":12.9},{"x":1950,"y":13.3},{"x":2050,"y":12.3},{"x":2150,"y":13.8},{"x":2250,"y":12.7},{"x":2350,"y":13.2},{"x":2450,"y":12.5},{"x":2550,"y":13.6},{"x":2650,"y":12.9},{"x":2750,"y":13.4},{"x":2850,"y":12.1},{"x":2950,"y":13.0},{"x":1200,"y":12.0},{"x":400,"y":10.3},{"x":1000,"y":10.6},{"x":1300,"y":10.2},{"x":2200,"y":10.5},{"x":2500,"y":10.4}],
"r4":[{"x":100,"y":20.2},{"x":300,"y":20.2},{"x":500,"y":20.2},{"x":700,"y":20.2},{"x":900,"y":20.2},{"x":1100,"y":20.2},{"x":1300,"y":20.2},{"x":1500,"y":20.2},{"x":1700,"y":20.2},{"x":1900,"y":20.2},{"x":2100,"y":20.2},{"x":2300,"y":20.2},{"x":2500,"y":20.2},{"x":2700,"y":20.2},{"x":2900,"y":20.2},{"x":200,"y":19.95},{"x":400,"y":19.95},{"x":600,"y":19.95},{"x":800,"y":19.95},{"x":1000,"y":19.95},{"x":1200,"y":19.95},{"x":1400,"y":19.95},{"x":1600,"y":19.95},{"x":1800,"y":19.95},{"x":2000,"y":19.95},{"x":2200,"y":19.95},{"x":2400,"y":19.95},{"x":2600,"y":19.95},{"x":2800,"y":19.95},{"x":3000,"y":19.95},{"x":150,"y":19.7},{"x":350,"y":19.7},{"x":600,"y":19.7},{"x":900,"y":19.7},{"x":1150,"y":19.7},{"x":1400,"y":19.7},{"x":1700,"y":19.7},{"x":1950,"y":19.7},{"x":2250,"y":19.7},{"x":2450,"y":19.7},{"x":2700,"y":19.7},{"x":2950,"y":19.7},{"x":350,"y":19.45},{"x":650,"y":19.45},{"x":850,"y":19.45},{"x":1050,"y":19.45},{"x":1300,"y":19.45},{"x":1550,"y":19.45},{"x":1800,"y":19.45},{"x":2050,"y":19.45},{"x":2300,"y":19.45},{"x":2600,"y":19.45},{"x":2850,"y":19.45},{"x":3000,"y":19.45},{"x":500,"y":19.2},{"x":750,"y":19.2},{"x":950,"y":19.2},{"x":1200,"y":19.2},{"x":1450,"y":19.2},{"x":1650,"y":19.2},{"x":1900,"y":19.2},{"x":2150,"y":19.2},{"x":2400,"y":19.2},{"x":2650,"y":19.2},{"x":2900,"y":19.2},{"x":600,"y":18.95},{"x":800,"y":18.95},{"x":1000,"y":18.95},{"x":1250,"y":18.95},{"x":1500,"y":18.95},{"x":1750,"y":18.95},{"x":2000,"y":18.95},{"x":2250,"y":18.95},{"x":2500,"y":18.95},{"x":2750,"y":18.95},{"x":3000,"y":18.95},{"x":700,"y":18.7},{"x":900,"y":18.7},{"x":1100,"y":18.7},{"x":1350,"y":18.7},{"x":1600,"y":18.7},{"x":1850,"y":18.7},{"x":2100,"y":18.7},{"x":2350,"y":18.7},{"x":2600,"y":18.7},{"x":2850,"y":18.7},{"x":750,"y":18.5},{"x":1000,"y":18.5},{"x":1300,"y":18.5},{"x":1550,"y":18.5},{"x":1800,"y":18.5},{"x":2100,"y":18.5},{"x":2300,"y":18.5},{"x":2550,"y":18.5},{"x":2800,"y":18.5}],
"r4e":[{"x":-880,"y":20.15},{"x":-950,"y":19.75},{"x":-550,"y":19.9},{"x":-280,"y":20.2},{"x":-450,"y":19.35},{"x":-180,"y":19.5},{"x":70,"y":19.1},{"x":-80,"y":18.9},{"x":370,"y":18.45},{"x":490,"y":18.45},{"x":570,"y":18.9},{"x":200,"y":19.3},{"x":1150,"y":19.5},{"x":2450,"y":19.45}],
"k4":[{"x":300,"y":14.95},{"x":550,"y":14.95},{"x":800,"y":14.95},{"x":1050,"y":14.95},{"x":1300,"y":14.95},{"x":1550,"y":14.95},{"x":1800,"y":14.95},{"x":2050,"y":14.95},{"x":2300,"y":14.95},{"x":2550,"y":14.95},{"x":2800,"y":14.95},{"x":150,"y":14.75},{"x":400,"y":14.75},{"x":650,"y":14.75},{"x":900,"y":14.75},{"x":1150,"y":14.75},{"x":1400,"y":14.75},{"x":1650,"y":14.75},{"x":1900,"y":14.75},{"x":2150,"y":14.75},{"x":2400,"y":14.75},{"x":2650,"y":14.75},{"x":2900,"y":14.75},{"x":100,"y":14.55},{"x":300,"y":14.55},{"x":550,"y":14.55},{"x":800,"y":14.55},{"x":1050,"y":14.55},{"x":1300,"y":14.55},{"x":1550,"y":14.55},{"x":1800,"y":14.55},{"x":2050,"y":14.55},{"x":2300,"y":14.55},{"x":2550,"y":14.55},{"x":2800,"y":14.55},{"x":3000,"y":14.55},{"x":200,"y":14.35},{"x":450,"y":14.35},{"x":700,"y":14.35},{"x":950,"y":14.35},{"x":1200,"y":14.35},{"x":1450,"y":14.35},{"x":1700,"y":14.35},{"x":1950,"y":14.35},{"x":2200,"y":14.35},{"x":2450,"y":14.35},{"x":2700,"y":14.35},{"x":2950,"y":14.35},{"x":600,"y":14.15},{"x":850,"y":14.15},{"x":1100,"y":14.15},{"x":1350,"y":14.15},{"x":1600,"y":14.15},{"x":1850,"y":14.15},{"x":2100,"y":14.15},{"x":2350,"y":14.15},{"x":2600,"y":14.15},{"x":2850,"y":14.15}],
"k4e":[{"x":-1000,"y":14.37},{"x":-850,"y":14.4},{"x":-550,"y":15.0},{"x":-480,"y":14.5},{"x":-280,"y":14.57},{"x":-180,"y":14.37},{"x":-60,"y":14.37},{"x":70,"y":14.27},{"x":1750,"y":15.1},{"x":1200,"y":15.05},{"x":800,"y":14.0},{"x":1300,"y":14.0},{"x":1750,"y":14.0},{"x":2200,"y":14.0},{"x":2450,"y":14.0}],
"b4":[{"x":200,"y":11.6},{"x":450,"y":11.6},{"x":700,"y":11.6},{"x":950,"y":11.6},{"x":1200,"y":11.6},{"x":1450,"y":11.6},{"x":1700,"y":11.6},{"x":1950,"y":11.6},{"x":2200,"y":11.6},{"x":2450,"y":11.6},{"x":2700,"y":11.6},{"x":2950,"y":11.6},{"x":100,"y":11.4},{"x":350,"y":11.4},{"x":600,"y":11.4},{"x":850,"y":11.4},{"x":1100,"y":11.4},{"x":1350,"y":11.4},{"x":1600,"y":11.4},{"x":1850,"y":11.4},{"x":2100,"y":11.4},{"x":2350,"y":11.4},{"x":2600,"y":11.4},{"x":2850,"y":11.4},{"x":250,"y":11.2},{"x":500,"y":11.2},{"x":750,"y":11.2},{"x":1000,"y":11.2},{"x":1250,"y":11.2},{"x":1500,"y":11.2},{"x":1750,"y":11.2},{"x":2000,"y":11.2},{"x":2250,"y":11.2},{"x":2500,"y":11.2},{"x":2750,"y":11.2},{"x":3000,"y":11.2},{"x":600,"y":11.0},{"x":900,"y":11.0},{"x":1150,"y":11.0},{"x":1400,"y":11.0},{"x":1700,"y":11.0},{"x":2000,"y":11.0},{"x":2300,"y":11.0},{"x":2550,"y":11.0},{"x":2800,"y":11.0}],
"b4e":[{"x":-950,"y":11.2},{"x":-830,"y":11.2},{"x":-550,"y":11.63},{"x":-450,"y":11.3},{"x":-280,"y":11.27},{"x":-180,"y":11.2},{"x":-60,"y":11.1},{"x":1100,"y":10.9},{"x":1900,"y":10.9},{"x":2500,"y":10.9}],
"box":[{"x":-6100,"x2":14650,"y":8.25,"y2":25.5}]
},
"hconcat":[
{"width":161,"height":429,
 "title":{"text":"Mode 'B': 07/29/2018 - 08/04/2019","offset":-45},
 "encoding":{
  "x":{"field":"x","type":"quantitative","scale":{"domain":[0,13000],"nice":false,"zero":false},"axis":{"values":[0,5000,10000],"format":"d","title":"Solar (MWh)"}},
  "y":{"field":"y","type":"quantitative","scale":{"domain":[10,24],"nice":false,"zero":false},"axis":{"values":[10,12,14,16,18,20,22,24],"format":"d","title":"Damping Ratio (%)"}}},
 "layer":[
  {"data":{"name":"box"},"mark":{"type":"rect","fill":"white","fillOpacity":0,"stroke":"#f07070","strokeWidth":3,"cornerRadius":26,"clip":false},"encoding":{"x2":{"field":"x2"},"y2":{"field":"y2"}}},
  {"data":{"name":"d1"},"mark":{"type":"circle","size":5,"color":"#a03a3a","opacity":0.85}},
  {"data":{"name":"r1"},"mark":{"type":"point","shape":"circle","filled":true,"color":"#ff0000","size":95,"opacity":1}},
  {"data":{"name":"k1"},"mark":{"type":"point","shape":"circle","filled":true,"color":"#000000","size":95,"opacity":1}},
  {"data":{"name":"k1e"},"mark":{"type":"point","shape":"circle","filled":false,"color":"#000000","size":26,"strokeWidth":2.6,"opacity":1}},
  {"data":{"name":"b1"},"mark":{"type":"point","shape":"circle","filled":true,"color":"#0000ff","size":95,"opacity":1}},
  {"data":{"name":"b1e"},"mark":{"type":"point","shape":"circle","filled":false,"color":"#0000ff","size":26,"strokeWidth":2.6,"opacity":1}}
 ]},
{"width":161,"height":429,
 "encoding":{
  "x":{"field":"x","type":"quantitative","scale":{"domain":[0,4000],"nice":false,"zero":false},"axis":{"values":[0,2000,4000],"format":"d","title":"Wind (MWh)"}},
  "y":{"field":"y","type":"quantitative","scale":{"domain":[10,24],"nice":false,"zero":false},"axis":{"values":[10,12,14,16,18,20,22,24],"format":"d","title":null}}},
 "layer":[
  {"data":{"name":"d2"},"mark":{"type":"circle","size":5,"color":"#2a2a8c","opacity":0.85}},
  {"data":{"name":"r2"},"mark":{"type":"point","shape":"circle","filled":true,"color":"#ff0000","size":110,"opacity":1}},
  {"data":{"name":"r2e"},"mark":{"type":"point","shape":"circle","filled":false,"color":"#ff0000","size":26,"strokeWidth":2.6,"opacity":1}},
  {"data":{"name":"k2"},"mark":{"type":"point","shape":"circle","filled":true,"color":"#000000","size":110,"opacity":1}},
  {"data":{"name":"k2e"},"mark":{"type":"point","shape":"circle","filled":false,"color":"#000000","size":26,"strokeWidth":2.6,"opacity":1}},
  {"data":{"name":"b2"},"mark":{"type":"point","shape":"circle","filled":true,"color":"#0000ff","size":110,"opacity":1}},
  {"data":{"name":"b2e"},"mark":{"type":"point","shape":"circle","filled":false,"color":"#0000ff","size":26,"strokeWidth":2.6,"opacity":1}}
 ]},
{"width":161,"height":429,
 "encoding":{
  "x":{"field":"x","type":"quantitative","scale":{"domain":[6.5,7.5],"nice":false,"zero":false},"axis":{"values":[6.5,7,7.5],"format":"~g","title":"Load (MWh)×10⁴"}},
  "y":{"field":"y","type":"quantitative","scale":{"domain":[10,24],"nice":false,"zero":false},"axis":{"values":[10,12,14,16,18,20,22,24],"format":"d","title":null}}},
 "layer":[
  {"data":{"name":"d3"},"mark":{"type":"circle","size":5,"color":"#222222","opacity":0.85}},
  {"data":{"name":"r3"},"mark":{"type":"point","shape":"circle","filled":true,"color":"#ff0000","size":100,"opacity":1}},
  {"data":{"name":"r3e"},"mark":{"type":"point","shape":"circle","filled":false,"color":"#ff0000","size":26,"strokeWidth":2.6,"opacity":1}},
  {"data":{"name":"k3"},"mark":{"type":"point","shape":"circle","filled":true,"color":"#000000","size":100,"opacity":1}},
  {"data":{"name":"b3"},"mark":{"type":"point","shape":"circle","filled":true,"color":"#0000ff","size":100,"opacity":1}}
 ]},
{"width":161,"height":429,
 "title":{"text":"4.Light wind, Limited Load & Limited COI, Mode(B)","offset":-4},
 "encoding":{
  "x":{"field":"x","type":"quantitative","scale":{"domain":[-1000,3000],"nice":false,"zero":false},"axis":{"values":[0,1000,2000],"format":"d","title":"COI Flow (MW)"}},
  "y":{"field":"y","type":"quantitative","scale":{"domain":[10,24],"nice":false,"zero":false},"axis":{"values":[10,12,14,16,18,20,22,24],"format":"d","title":null}}},
 "layer":[
  {"data":{"name":"d4"},"mark":{"type":"circle","size":5,"color":"#c050c8","opacity":0.85}},
  {"data":{"name":"r4"},"mark":{"type":"point","shape":"circle","filled":true,"color":"#ff0000","size":110,"opacity":1}},
  {"data":{"name":"r4e"},"mark":{"type":"point","shape":"circle","filled":false,"color":"#ff0000","size":26,"strokeWidth":2.6,"opacity":1}},
  {"data":{"name":"k4"},"mark":{"type":"point","shape":"circle","filled":true,"color":"#000000","size":110,"opacity":1}},
  {"data":{"name":"k4e"},"mark":{"type":"point","shape":"circle","filled":false,"color":"#000000","size":26,"strokeWidth":2.6,"opacity":1}},
  {"data":{"name":"b4"},"mark":{"type":"point","shape":"circle","filled":true,"color":"#0000ff","size":110,"opacity":1}},
  {"data":{"name":"b4e"},"mark":{"type":"point","shape":"circle","filled":false,"color":"#0000ff","size":26,"strokeWidth":2.6,"opacity":1}}
 ]}
]
}
